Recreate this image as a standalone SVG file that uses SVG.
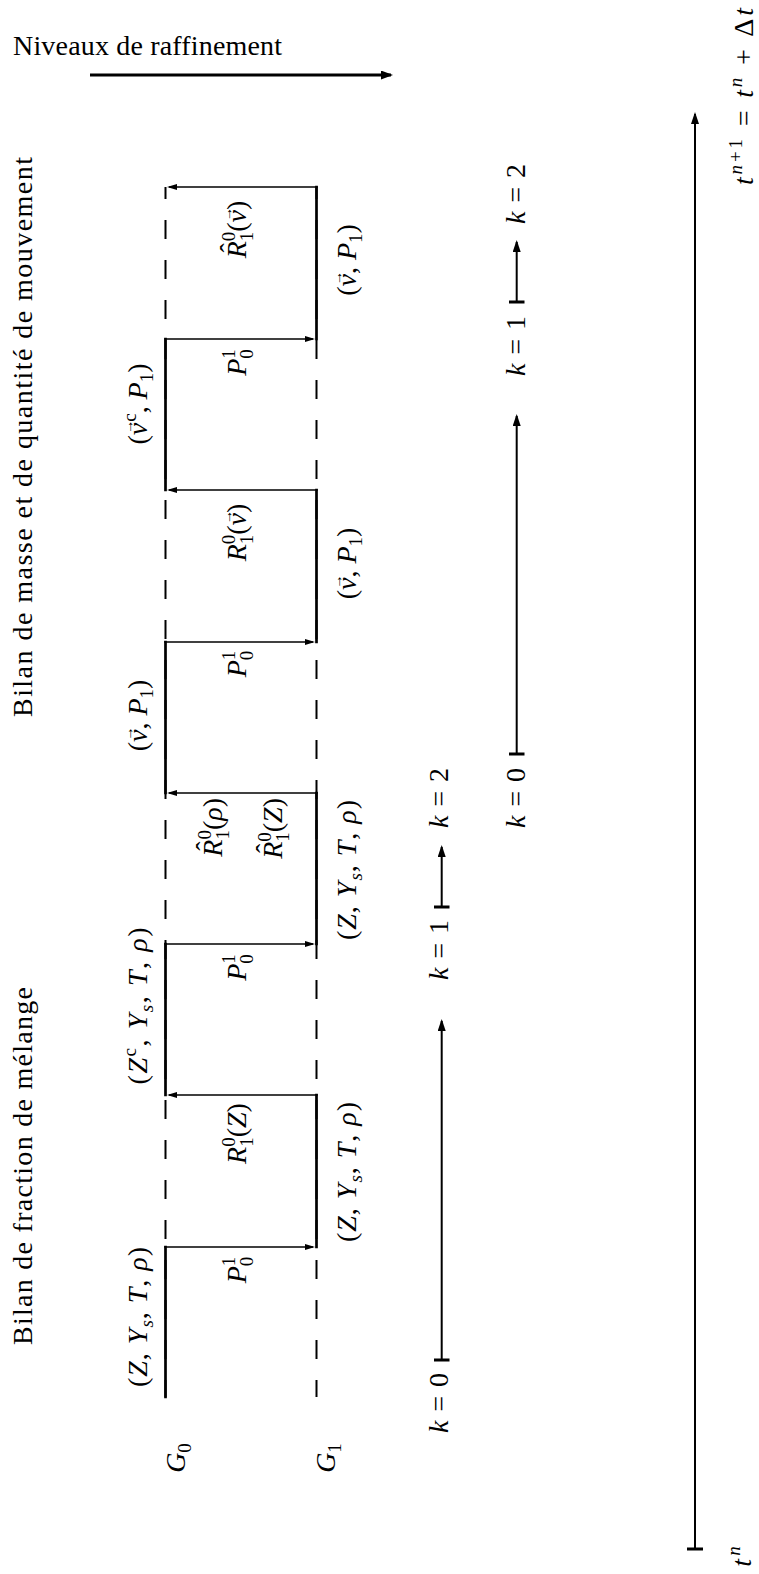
<svg xmlns="http://www.w3.org/2000/svg" width="759" height="1574" viewBox="0 0 759 1574">
<style>
text { font-family: "Liberation Serif", "DejaVu Serif", serif; font-size: 28px; fill: #000; }
.i { font-style: italic; }
.s { font-size: 19px; }
.ar { font-size: 14px; }
.solid { stroke: #000; stroke-width: 2.7; fill: none; stroke-linecap: square; }
.dash { stroke: #000; stroke-width: 2; fill: none; stroke-dasharray: 19 21; stroke-dashoffset: 7; }
.harr { stroke: #000; stroke-width: 1.7; fill: none; marker-end: url(#hs); }
.arr { stroke: #000; stroke-width: 2; fill: none; marker-end: url(#hb); }
.big { stroke: #000; stroke-width: 3; fill: none; marker-end: url(#hbig); }
.tee { stroke: #000; stroke-width: 3; }
</style>
<defs>
<marker id="hs" markerUnits="userSpaceOnUse" viewBox="0 0 10 6" markerWidth="10" markerHeight="6" refX="8" refY="3" orient="auto"><path d="M0,0L10,3L0,6z" fill="#000"/></marker>
<marker id="hb" markerUnits="userSpaceOnUse" viewBox="0 0 12 8" markerWidth="12" markerHeight="8" refX="10" refY="4" orient="auto"><path d="M0,0L12,4L0,8z" fill="#000"/></marker>
<marker id="hbig" markerUnits="userSpaceOnUse" viewBox="0 0 12 9" markerWidth="12" markerHeight="9" refX="10" refY="4.5" orient="auto"><path d="M0,0L12,4.5L0,9z" fill="#000"/></marker>
</defs>
<rect width="759" height="1574" fill="#fff"/>

<g id="titles">
<text x="13" y="55" textLength="269">Niveaux de raffinement</text>
<text transform="translate(32,717) rotate(-90)" textLength="560">Bilan de masse et de quantité de mouvement</text>
<text transform="translate(32,1345) rotate(-90)" textLength="358">Bilan de fraction de mélange</text>
</g>

<g id="connectors">
<path class="big" d="M90,75H391"/>
<path class="dash" d="M165.5,187V1397"/>
<path class="dash" d="M316.5,187V1397"/>
<path class="solid" d="M165.5,339V490M165.5,642V793M165.5,944V1095M165.5,1247V1397"/>
<path class="solid" d="M316.5,187V339M316.5,490V642M316.5,793V944M316.5,1095V1247"/>
<path class="harr" d="M164.2,1247H313"/>
<path class="harr" d="M317.8,1095H169"/>
<path class="harr" d="M164.2,944H313"/>
<path class="harr" d="M317.8,793H169"/>
<path class="harr" d="M164.2,642H313"/>
<path class="harr" d="M317.8,490H169"/>
<path class="harr" d="M164.2,339H313"/>
<path class="harr" d="M317.8,187H169"/>
<path class="tee" d="M434,1360H449.5M434,907H449.5M509,754H524.5M509,302H524.5M687,1549H703"/>
<path class="arr" d="M441.7,1360V1021"/>
<path class="arr" d="M441.7,907V847"/>
<path class="arr" d="M516.7,754V416"/>
<path class="arr" d="M516.7,302V242"/>
<path class="arr" d="M695,1549V114"/>
</g>

<g id="G0"><text transform="translate(185,1458) rotate(-90)" text-anchor="middle"><tspan class="i">G</tspan><tspan class="s" dy="6">0</tspan></text></g>
<g id="G1"><text transform="translate(335,1458) rotate(-90)" text-anchor="middle"><tspan class="i">G</tspan><tspan class="s" dy="6">1</tspan></text></g>

<g id="state-g0-1"><text transform="translate(147,1317) rotate(-90)" text-anchor="middle" textLength="140">(<tspan class="i">Z</tspan>, <tspan class="i">Y</tspan><tspan class="s i" dy="6">s</tspan><tspan dy="-6">, </tspan><tspan class="i">T</tspan>, <tspan class="i">ρ</tspan>)</text></g>
<g id="state-g0-2"><text transform="translate(147,1006) rotate(-90)" text-anchor="middle" textLength="157">(<tspan class="i">Z</tspan><tspan class="s" dy="-11">c</tspan><tspan dy="11">, </tspan><tspan class="i">Y</tspan><tspan class="s i" dy="6">s</tspan><tspan dy="-6">, </tspan><tspan class="i">T</tspan>, <tspan class="i">ρ</tspan>)</text></g>
<g id="state-g0-3"><text transform="translate(147,715.5) rotate(-90)" text-anchor="middle">(<tspan class="i">v</tspan><tspan class="ar" dx="-11" dy="-14">→</tspan><tspan dx="-3" dy="14">, </tspan><tspan class="i">P</tspan><tspan class="s" dy="6">1</tspan><tspan dy="-6">)</tspan></text></g>
<g id="state-g0-4"><text transform="translate(147,404) rotate(-90)" text-anchor="middle">(<tspan class="i">v</tspan><tspan class="ar" dx="-11" dy="-14">→</tspan><tspan class="s" dx="-2" dy="3">c</tspan><tspan dy="11">, </tspan><tspan class="i">P</tspan><tspan class="s" dy="6">1</tspan><tspan dy="-6">)</tspan></text></g>

<g id="state-g1-1"><text transform="translate(356,1172) rotate(-90)" text-anchor="middle" textLength="140">(<tspan class="i">Z</tspan>, <tspan class="i">Y</tspan><tspan class="s i" dy="6">s</tspan><tspan dy="-6">, </tspan><tspan class="i">T</tspan>, <tspan class="i">ρ</tspan>)</text></g>
<g id="state-g1-2"><text transform="translate(356,870) rotate(-90)" text-anchor="middle" textLength="140">(<tspan class="i">Z</tspan>, <tspan class="i">Y</tspan><tspan class="s i" dy="6">s</tspan><tspan dy="-6">, </tspan><tspan class="i">T</tspan>, <tspan class="i">ρ</tspan>)</text></g>
<g id="state-g1-3"><text transform="translate(356,563.5) rotate(-90)" text-anchor="middle">(<tspan class="i">v</tspan><tspan class="ar" dx="-11" dy="-14">→</tspan><tspan dx="-3" dy="14">, </tspan><tspan class="i">P</tspan><tspan class="s" dy="6">1</tspan><tspan dy="-6">)</tspan></text></g>
<g id="state-g1-4"><text transform="translate(356,260) rotate(-90)" text-anchor="middle">(<tspan class="i">v</tspan><tspan class="ar" dx="-11" dy="-14">→</tspan><tspan dx="-3" dy="14">, </tspan><tspan class="i">P</tspan><tspan class="s" dy="6">1</tspan><tspan dy="-6">)</tspan></text></g>

<g id="op-1"><text transform="translate(246,1270) rotate(-90)" text-anchor="middle"><tspan class="i">P</tspan><tspan class="s" dy="-11">1</tspan><tspan class="s" dx="-9.5" dy="18">0</tspan></text></g>
<g id="op-2"><text transform="translate(246,1133.5) rotate(-90)" text-anchor="middle"><tspan class="i">R</tspan><tspan class="s" dy="-11">0</tspan><tspan class="s" dx="-9.5" dy="18">1</tspan><tspan dy="-7">(</tspan><tspan class="i">Z</tspan>)</text></g>
<g id="op-3"><text transform="translate(246,967.5) rotate(-90)" text-anchor="middle"><tspan class="i">P</tspan><tspan class="s" dy="-11">1</tspan><tspan class="s" dx="-9.5" dy="18">0</tspan></text></g>
<g id="op-4a"><text transform="translate(222,798) rotate(-90)" text-anchor="end"><tspan class="i">R</tspan><tspan dx="-11.2" dy="-7">ˆ</tspan><tspan class="s" dx="1.9" dy="-4">0</tspan><tspan class="s" dx="-9.5" dy="18">1</tspan><tspan dy="-7">(</tspan><tspan class="i">ρ</tspan>)</text></g>
<g id="op-4b"><text transform="translate(282,798) rotate(-90)" text-anchor="end"><tspan class="i">R</tspan><tspan dx="-11.2" dy="-7">ˆ</tspan><tspan class="s" dx="1.9" dy="-4">0</tspan><tspan class="s" dx="-9.5" dy="18">1</tspan><tspan dy="-7">(</tspan><tspan class="i">Z</tspan>)</text></g>
<g id="op-5"><text transform="translate(246,664) rotate(-90)" text-anchor="middle"><tspan class="i">P</tspan><tspan class="s" dy="-11">1</tspan><tspan class="s" dx="-9.5" dy="18">0</tspan></text></g>
<g id="op-6"><text transform="translate(246,532.5) rotate(-90)" text-anchor="middle"><tspan class="i">R</tspan><tspan class="s" dy="-11">0</tspan><tspan class="s" dx="-9.5" dy="18">1</tspan><tspan dy="-7">(</tspan><tspan class="i">v</tspan><tspan class="ar" dx="-11" dy="-14">→</tspan><tspan dx="-3" dy="14">)</tspan></text></g>
<g id="op-7"><text transform="translate(246,362.5) rotate(-90)" text-anchor="middle"><tspan class="i">P</tspan><tspan class="s" dy="-11">1</tspan><tspan class="s" dx="-9.5" dy="18">0</tspan></text></g>
<g id="op-8"><text transform="translate(246,229.5) rotate(-90)" text-anchor="middle"><tspan class="i">R</tspan><tspan dx="-11.2" dy="-7">ˆ</tspan><tspan class="s" dx="1.9" dy="-4">0</tspan><tspan class="s" dx="-9.5" dy="18">1</tspan><tspan dy="-7">(</tspan><tspan class="i">v</tspan><tspan class="ar" dx="-11" dy="-14">→</tspan><tspan dx="-3" dy="14">)</tspan></text></g>

<g id="k-a0"><text transform="translate(448,1403) rotate(-90)" text-anchor="middle" textLength="60"><tspan class="i">k</tspan> = 0</text></g>
<g id="k-a1"><text transform="translate(448,950) rotate(-90)" text-anchor="middle" textLength="60"><tspan class="i">k</tspan> = 1</text></g>
<g id="k-a2"><text transform="translate(448,798) rotate(-90)" text-anchor="middle" textLength="60"><tspan class="i">k</tspan> = 2</text></g>
<g id="k-b0"><text transform="translate(525,798) rotate(-90)" text-anchor="middle" textLength="60"><tspan class="i">k</tspan> = 0</text></g>
<g id="k-b1"><text transform="translate(525,346) rotate(-90)" text-anchor="middle" textLength="60"><tspan class="i">k</tspan> = 1</text></g>
<g id="k-b2"><text transform="translate(525,194) rotate(-90)" text-anchor="middle" textLength="60"><tspan class="i">k</tspan> = 2</text></g>

<g id="t-n"><text transform="translate(751,1556.5) rotate(-90)" text-anchor="middle"><tspan class="i">t</tspan><tspan class="s i" dx="3" dy="-11">n</tspan></text></g>
<g id="t-n1"><text transform="translate(753,96.5) rotate(-90)" text-anchor="middle" textLength="177"><tspan class="i">t</tspan><tspan class="s i" dy="-11">n</tspan><tspan class="s">+1</tspan><tspan dy="11"> = </tspan><tspan class="i">t</tspan><tspan class="s i" dy="-11">n</tspan><tspan dy="11"> + Δ</tspan><tspan class="i">t</tspan></text></g>
</svg>
